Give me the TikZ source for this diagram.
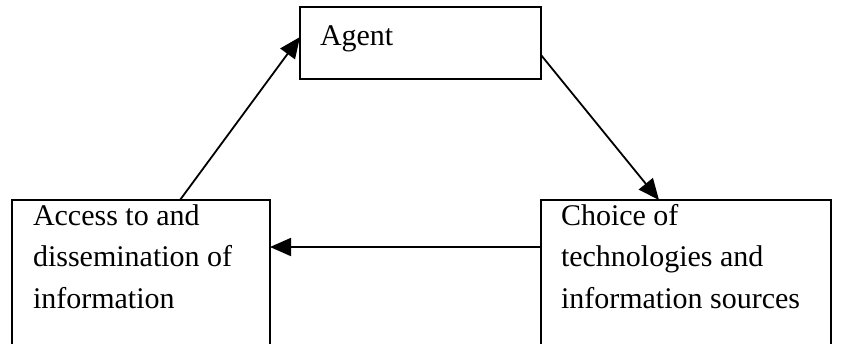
\documentclass[tikz,border=0pt]{standalone}
\usepackage{fontspec}
\setmainfont{Liberation Serif}
\usetikzlibrary{arrows.meta,calc}
\tikzset{
  box/.style={draw=black, line width=2pt, fill=white, inner sep=0pt, outer sep=0pt, anchor=north west},
  lbl/.style={inner sep=0pt, outer sep=0pt, anchor=base west, align=left, font=\fontsize{30}{41.5}\selectfont},
  conn/.style={line width=1.8pt, -{Triangle[length=21pt,width=18pt]}}
}
\begin{document}
\begin{tikzpicture}[x=1pt,y=-1pt]
\useasboundingbox (0,0) rectangle (843,343);
\clip (0,0) rectangle (843,343);
\node[box, minimum width=241pt, minimum height=72pt] (agent) at (300,7) {};
\node[box, minimum width=258pt, minimum height=170pt] (lbox) at (12,200) {};
\node[box, minimum width=290pt, minimum height=170pt] (rbox) at (541,200) {};
\node[lbl] (agentt) at (320,45) {Agent};
\node[lbl] (lboxt) at (33,308) {Access to and\\dissemination of\\information};
\node[lbl] (rboxt) at (561,308) {Choice of\\technologies and\\information sources};
\draw[conn] ($(lbox.north west)+(168,0)$) -- ($(agent.north west)+(0,30)$);
\draw[conn] ($(agent.north east)+(0,48)$) -- ($(rbox.north west)+(118,0)$);
\draw[conn] ($(rbox.north west)+(0,47)$) -- ($(lbox.north east)+(0,47)$);
\end{tikzpicture}
\end{document}
